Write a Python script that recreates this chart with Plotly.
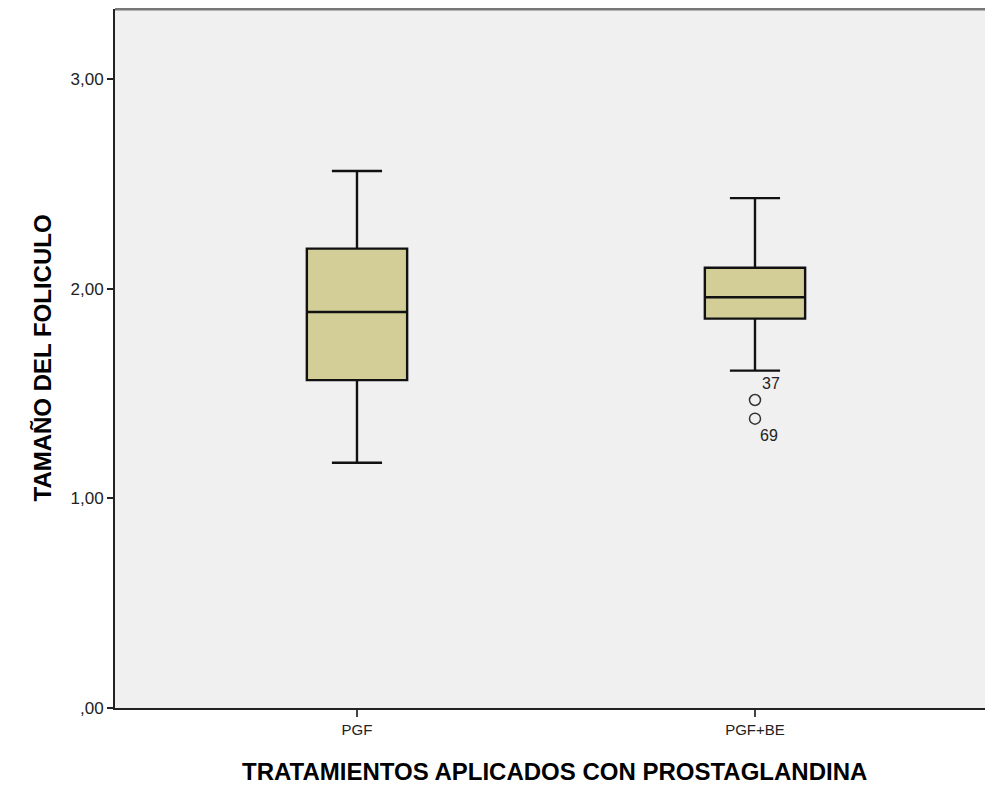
import plotly.graph_objects as go

# ---- data ----
categories = ["PGF", "PGF+BE"]
lower_whisker = [1.170, 1.609]
q1_values = [1.564, 1.857]
median_values = [1.889, 1.959]
q3_values = [2.191, 2.100]
upper_whisker = [2.561, 2.432]

outlier_group = ["PGF+BE", "PGF+BE"]
outlier_values = [1.469, 1.380]
outlier_ids = ["37", "69"]

y_tick_vals = [0, 1, 2, 3]
y_tick_text = [",00", "1,00", "2,00", "3,00"]

x_title = "TRATAMIENTOS APLICADOS CON PROSTAGLANDINA"
y_title = "TAMAÑO DEL FOLICULO"

FONT = "Liberation Sans, Arial, sans-serif"
LEFT = 107
PLOT_W = 878

fig = go.Figure()

fig.add_trace(go.Box(
    x=categories,
    q1=q1_values,
    median=median_values,
    q3=q3_values,
    lowerfence=lower_whisker,
    upperfence=upper_whisker,
    fillcolor="#D3CE97",
    line=dict(color="#111111", width=2.4),
    width=0.252,
    whiskerwidth=0.5,
    boxpoints=False,
    showlegend=False,
    hoverinfo="skip",
))

fig.add_trace(go.Scatter(
    x=outlier_group,
    y=outlier_values,
    mode="markers",
    marker=dict(symbol="circle-open", size=11, color="#333333",
                line=dict(width=1.5, color="#333333")),
    showlegend=False,
    hoverinfo="skip",
))

annotations = []
label_offsets = [(16, 17), (14, -17)]
for g, v, lab, (dx, dy) in zip(outlier_group, outlier_values, outlier_ids, label_offsets):
    annotations.append(dict(
        x=g, y=v, xref="x", yref="y", text=lab, showarrow=False,
        xshift=dx, yshift=dy, font=dict(family=FONT, size=16, color="#222222"),
    ))

annotations.append(dict(
    x=0.5, y=0, xref="paper", yref="paper", text=x_title, showarrow=False,
    xanchor="center", yanchor="middle", yshift=-63,
    font=dict(family=FONT, size=24, color="#000000", weight="bold"),
))
annotations.append(dict(
    x=0, y=0.5, xref="paper", yref="paper", text=y_title, showarrow=False,
    xanchor="center", yanchor="middle", xshift=-73, textangle=-90,
    font=dict(family=FONT, size=24, color="#000000", weight="bold"),
))

shapes = [
    # top frame line
    dict(type="line", xref="paper", yref="paper", x0=0, x1=1.02, y0=1, y1=1,
         line=dict(color="#777777", width=3)),
]
# faint lavender gradient strip at the left edge
strip = [(0.55, 0.40, "#F8F8FD"), (0.40, 0.20, "#F0F0FA"), (0.20, -0.20, "#E9E9F6")]
for ytop, ybot, col in strip:
    shapes.append(dict(type="rect", xref="paper", yref="paper",
                       x0=-(LEFT + 8) / PLOT_W, x1=-(LEFT + 2) / PLOT_W, y0=ybot, y1=ytop,
                       fillcolor=col, line=dict(width=0), layer="below"))

fig.update_layout(
    width=985, height=793,
    margin=dict(l=LEFT, r=0, t=1, b=93),
    paper_bgcolor="white",
    plot_bgcolor="#F0F0F0",
    font=dict(family=FONT, color="#222222"),
    annotations=annotations,
    shapes=shapes,
)

fig.update_xaxes(
    type="category",
    range=[-0.608, 1.598],
    showgrid=False, zeroline=False,
    showline=True, linecolor="#222222", linewidth=2,
    ticks="outside", ticklen=7, tickwidth=2, tickcolor="#444444",
    tickfont=dict(family=FONT, size=15, color="#222222"),
)
fig.update_yaxes(
    range=[0, 3.334],
    tickvals=y_tick_vals, ticktext=y_tick_text,
    showgrid=False, zeroline=False,
    showline=True, linecolor="#222222", linewidth=2,
    ticks="outside", ticklen=6, tickwidth=2, tickcolor="#222222",
    tickfont=dict(family=FONT, size=17, color="#222222"),
)

fig.write_html("out.html")
